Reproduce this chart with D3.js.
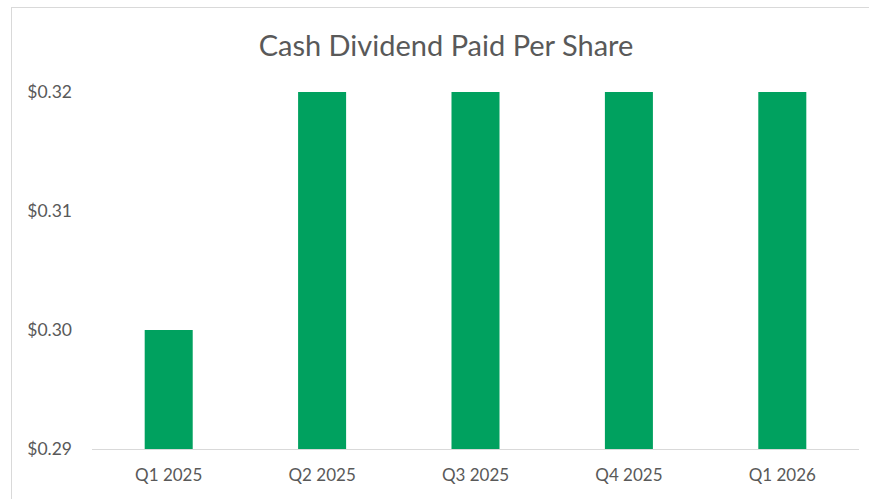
<!DOCTYPE html>
<html><head><meta charset="utf-8">
<script src="https://cdn.jsdelivr.net/npm/d3@7"></script>
<style>body{margin:0;background:#fff;}svg{display:block;}</style>
</head><body>
<svg id="c" width="869" height="499"></svg>
<script>
const categories = ["Q1 2025","Q2 2025","Q3 2025","Q4 2025","Q1 2026"];
const values = [0.30, 0.32, 0.32, 0.32, 0.32];
const yTicks = [0.29, 0.30, 0.31, 0.32];
const title = "Cash Dividend Paid Per Share";

const svg = d3.select("#c");
const font = "Lato, 'Open Sans', sans-serif";
// frame
svg.append("rect").attr("x",11.5).attr("y",7.5).attr("width",900).attr("height",600)
  .attr("fill","none").attr("stroke","#D9D9D9").attr("stroke-width",1);

const x = d3.scaleBand().domain(categories).range([92,859]).paddingInner(0.687).paddingOuter(0.3435);
const y = d3.scaleLinear().domain([0.29,0.32]).range([449,92]);

svg.append("text").attr("x",446).attr("y",55.5).attr("text-anchor","middle")
  .attr("font-family",font).attr("font-size",29).attr("fill","#595959").text(title);

svg.selectAll("rect.bar").data(values).join("rect").attr("class","bar")
  .attr("x",(d,i)=>x(categories[i])).attr("width",x.bandwidth())
  .attr("y",d=>y(d)).attr("height",d=>y(0.29)-y(d)).attr("fill","#00A15F");

svg.append("line").attr("x1",92).attr("x2",859).attr("y1",449.5).attr("y2",449.5)
  .attr("stroke","#D9D9D9").attr("stroke-width",1);

const yAxis = d3.axisLeft(y).tickValues(yTicks).tickSize(0).tickPadding(0).tickFormat(d=>"$"+d.toFixed(2));
const ga = svg.append("g").attr("transform","translate(72,0)").call(yAxis);
ga.select(".domain").remove();
ga.selectAll("text").attr("font-family",font).attr("font-size",17.5).attr("fill","#595959");

const xAxis = d3.axisBottom(x).tickSize(0).tickPadding(0);
const gx = svg.append("g").attr("transform","translate(0,469)").call(xAxis);
gx.select(".domain").remove();
gx.selectAll("text").attr("font-family",font).attr("font-size",17).attr("fill","#595959");
</script>
</body></html>
